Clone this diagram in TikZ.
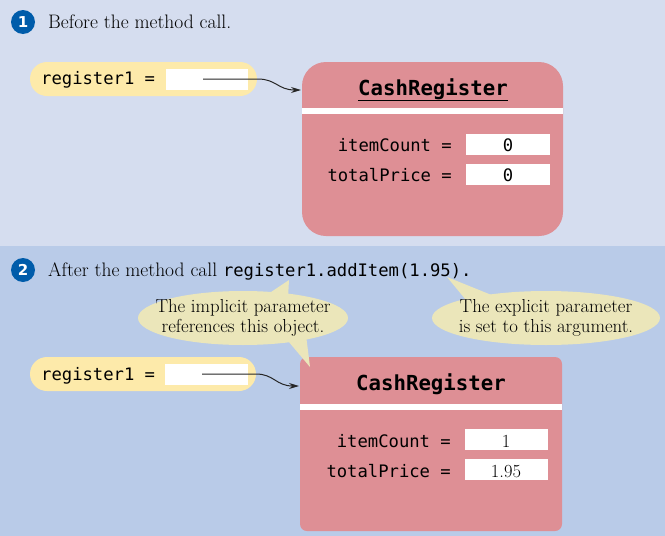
\documentclass[tikz,border=0pt]{standalone}
\usepackage{fontspec}
\newfontfamily\codefont{DejaVu Sans Mono}
\newfontfamily\numfont{DejaVu Sans}
\usetikzlibrary{arrows.meta,shapes.geometric}
\definecolor{bgtop}{RGB}{213,221,239}
\definecolor{bgbot}{RGB}{185,203,232}
\definecolor{numblue}{RGB}{0,92,170}
\definecolor{pill}{RGB}{253,234,170}
\definecolor{objred}{RGB}{222,143,149}
\definecolor{bubble}{RGB}{235,230,186}
\tikzset{
  numcirc/.style={circle,fill=numblue,minimum size=24pt,inner sep=0pt,text=white,font=\numfont\bfseries\fontsize{15}{15}\selectfont},
  caption/.style={anchor=base west,inner sep=0pt,font=\fontsize{19.5}{22}\selectfont},
  codetxt/.style={inner sep=0pt,font=\codefont\fontsize{17.2}{19}\selectfont},
  pillbox/.style={fill=pill,rounded corners=17pt},
  valbox/.style={fill=white,inner sep=0pt,minimum height=21pt},
  objbox/.style={fill=objred},
  sep/.style={fill=white},
  titletxt/.style={anchor=base,inner sep=0pt,font=\codefont\bfseries\fontsize{20.7}{22}\selectfont},
  ptr/.style={line width=1pt,black!85,-{Stealth[length=10pt,width=6pt]}},
  bubtxt/.style={align=center,inner sep=0pt,font=\fontsize{18.8}{20}\selectfont},
  numtxt/.style={anchor=base,inner sep=0pt,font=\fontsize{18.5}{20}\selectfont},
}
\begin{document}
\begin{tikzpicture}[x=1pt,y=-1pt]
\useasboundingbox (0,0) rectangle (665,536);
% backgrounds
\fill[bgtop] (0,0) rectangle (665,246);
\fill[bgbot] (0,246) rectangle (665,536);

% ---------- panel 1 ----------
\node[numcirc] (n1) at (23,22) {1};
\node[caption] (cap1) at (48,28) {Before the method call.};

\fill[pillbox] (30,62) rectangle (257,96);
\node[codetxt,anchor=base west] (reg1) at (41,84) {register1 =};
\node[valbox,minimum width=82pt,anchor=north west] (v1) at (166,69) {};

\fill[objbox,rounded corners=24pt] (302,62) rectangle (563,236);
\node[draw=none,minimum width=261pt,minimum height=174pt,anchor=north west,inner sep=0pt] (obj1) at (302,62) {};
\fill[sep] (302,108) rectangle (563,114);
\node[titletxt] (t1) at (433,95) {\underline{CashRegister}};
\node[codetxt,anchor=base east] (ic1) at (452,151) {itemCount =};
\node[valbox,minimum width=84pt,anchor=north west] (icv1) at (466,134) {};
\node[codetxt,anchor=base] at (508,151) {0};
\node[codetxt,anchor=base east] (tp1) at (452,181) {totalPrice =};
\node[valbox,minimum width=84pt,anchor=north west] (tpv1) at (466,164) {};
\node[codetxt,anchor=base] at (508,181) {0};

\coordinate (s1) at (203,79);
\coordinate (e1) at (301,90);
\draw[ptr] (s1) -- (258,79) .. controls (276,79) and (278,90) .. (e1);

% ---------- panel 2 ----------
\node[numcirc] (n2) at (23,270) {2};
\node[caption] (cap2) at (48,276) {After the method call {\codefont\fontsize{17.2}{19}\selectfont register1.addItem(1.95).}};

\fill[pillbox] (30,357) rectangle (256,391);
\node[codetxt,anchor=base west] (reg2) at (41,380) {register1 =};
\node[valbox,minimum width=83pt,anchor=north west] (v2) at (165,364) {};

\fill[objbox,rounded corners=7pt] (300,357) rectangle (562,531);
\node[draw=none,minimum width=262pt,minimum height=174pt,anchor=north west,inner sep=0pt] (obj2) at (300,357) {};
\fill[sep] (300,404) rectangle (562,410);
\node[titletxt] (t2) at (431,390) {CashRegister};
\node[codetxt,anchor=base east] (ic2) at (451,447) {itemCount =};
\node[valbox,minimum width=83pt,anchor=north west] (icv2) at (465,429) {};
\node[numtxt] at (506,447) {1};
\node[codetxt,anchor=base east] (tp2) at (451,477) {totalPrice =};
\node[valbox,minimum width=83pt,anchor=north west] (tpv2) at (465,459) {};
\node[numtxt] at (506,477) {1.95};

\coordinate (s2) at (202,374);
\coordinate (e2) at (299,386);
\draw[ptr] (s2) -- (256,374) .. controls (274,374) and (276,386) .. (e2);

% speech bubbles
\fill[bubble] (262,298) -- (289,280) -- (288,298) -- cycle;
\fill[bubble] (283,335) -- (310,367) -- (306,335) -- cycle;
\fill[bubble] (243,318) ellipse [x radius=105, y radius=27];
\node[bubtxt] (b1) at (243,318) {The implicit parameter\\references this object.};

\fill[bubble] (466,300) -- (447,277) -- (494,296) -- cycle;
\fill[bubble] (546,318) ellipse [x radius=114, y radius=27];
\node[bubtxt] (b2) at (546,318) {The explicit parameter\\is set to this argument.};
\end{tikzpicture}
\end{document}
